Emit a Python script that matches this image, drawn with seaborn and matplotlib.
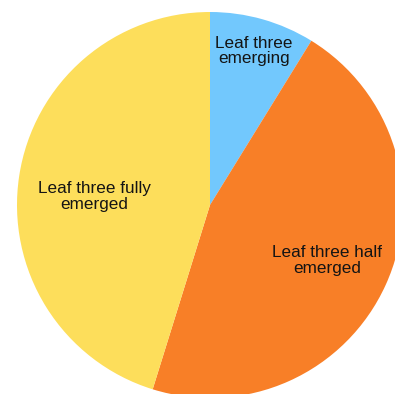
import numpy as np
import matplotlib
matplotlib.use("Agg")
import matplotlib.pyplot as plt
import seaborn as sns

# Leaf-three development stages (share of plants, %)
stages = ["Leaf three\nemerging", "Leaf three half\nemerged", "Leaf three fully\nemerged"]
shares = [8.8, 46.0, 45.2]
colors = ["#72C8FD", "#F87F27", "#FDDE5B"]
# label placement: fraction of the radius and angular nudge (degrees)
label_radius = [0.83, 0.67, 0.60]
label_nudge = [0.0, -1.0, 4.3]

sns.set_theme(style="white")
plt.rcParams["font.family"] = ["Liberation Sans", "DejaVu Sans"]

W, H, DPI = 395, 394, 100
fig = plt.figure(figsize=(W / DPI, H / DPI), dpi=DPI)
ax = fig.add_axes([0, 0, 1, 1])

wedges, _ = ax.pie(
    shares,
    colors=colors,
    startangle=90,
    counterclock=False,
    radius=1.0,
    wedgeprops=dict(linewidth=0),
)

for w, text, frac, nudge in zip(wedges, stages, label_radius, label_nudge):
    mid = np.deg2rad((w.theta1 + w.theta2) / 2 + nudge)
    ax.text(frac * np.cos(mid), frac * np.sin(mid), text,
            ha="center", va="center", fontsize=12.3, color="#141414",
            linespacing=1.05)

# pie centre sits at (210, 205) px from the top-left, radius 193 px
r_px, cx, cy = 193.0, 210.0, 205.0
ax.set_xlim(-cx / r_px, (W - cx) / r_px)
ax.set_ylim(-(H - cy) / r_px, cy / r_px)
ax.set_aspect("auto")
ax.axis("off")

fig.savefig("out.png", dpi=DPI, facecolor="white")
